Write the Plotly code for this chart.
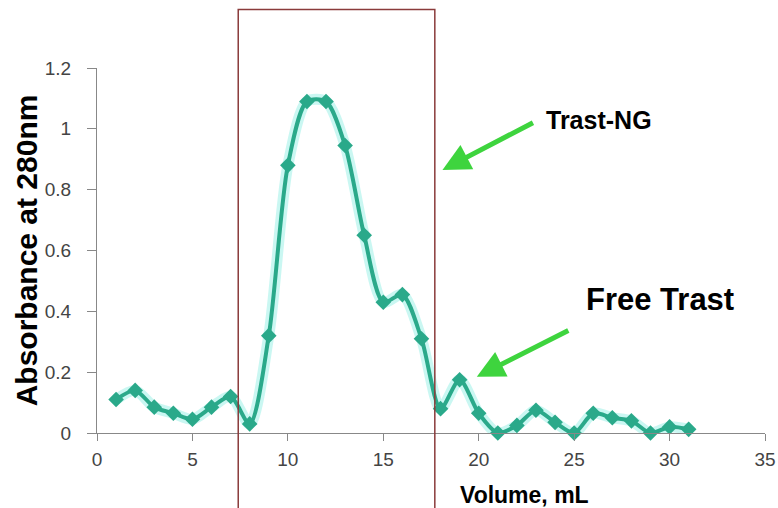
import plotly.graph_objects as go

# ---------------- data ----------------
volume_ml = [1, 2, 3, 4, 5, 6, 7, 8, 9, 10, 11, 12, 13, 14, 15, 16,
             17, 18, 19, 20, 21, 22, 23, 24, 25, 26, 27, 28, 29, 30, 31]
absorbance = [0.11, 0.14, 0.085, 0.065, 0.045, 0.085, 0.12, 0.03, 0.32, 0.88,
              1.09, 1.09, 0.945, 0.65, 0.43, 0.455, 0.31, 0.08, 0.175, 0.065,
              0.0, 0.025, 0.075, 0.035, 0.0, 0.065, 0.05, 0.04, 0.0, 0.02, 0.012]
x_ticks = [0, 5, 10, 15, 20, 25, 30, 35]
y_ticks = [0, 0.2, 0.4, 0.6, 0.8, 1, 1.2]
y_tick_text = ["0", "0.2", "0.4", "0.6", "0.8", "1", "1.2"]

TEAL = "#2aa98a"
GREEN = "#3ed43e"
BOX = "#8a3b3b"
FONT = "Arial, Liberation Sans"

fig = go.Figure()

# soft glow under the line
fig.add_trace(go.Scatter(
    x=volume_ml, y=absorbance, mode="lines",
    line=dict(color="rgba(150,240,230,0.5)", width=11, shape="spline", smoothing=0.8),
    hoverinfo="skip", showlegend=False, cliponaxis=False
))

fig.add_trace(go.Scatter(
    x=volume_ml, y=absorbance, mode="lines+markers",
    line=dict(color=TEAL, width=4, shape="spline", smoothing=0.8),
    marker=dict(symbol="diamond", size=12, color=TEAL),
    showlegend=False, cliponaxis=False
))

# ---------------- fraction box ----------------
fig.add_shape(
    type="rect", xref="x", yref="paper",
    x0=7.4, x1=17.7, y0=-0.4, y1=1.16,
    line=dict(color=BOX, width=1.5), layer="above"
)

# ---------------- arrows + labels ----------------
fig.add_annotation(
    x=18.1, y=0.865, xref="x", yref="y", ax=92, ay=-48,
    showarrow=True, arrowhead=2, arrowsize=1.1, arrowwidth=5,
    arrowcolor=GREEN, text=""
)
fig.add_annotation(
    x=19.9, y=0.185, xref="x", yref="y", ax=93, ay=-47,
    showarrow=True, arrowhead=2, arrowsize=1.1, arrowwidth=5,
    arrowcolor=GREEN, text=""
)
fig.add_annotation(
    x=23.4, y=1.03, xref="x", yref="y", xanchor="left", yanchor="middle",
    text="<b>Trast-NG</b>", showarrow=False,
    font=dict(family=FONT, size=25, color="#000")
)
fig.add_annotation(
    x=25.5, y=0.44, xref="x", yref="y", xanchor="left", yanchor="middle",
    text="<b>Free Trast</b>", showarrow=False,
    font=dict(family=FONT, size=31, color="#000")
)

# axis titles
fig.add_annotation(
    x=0.54, y=-0.17, xref="paper", yref="paper", xanchor="left", yanchor="middle",
    text="<b>Volume, mL</b>", showarrow=False,
    font=dict(family=FONT, size=23, color="#000")
)
fig.add_annotation(
    x=-0.105, y=0.5, xref="paper", yref="paper", xanchor="center", yanchor="middle",
    text="<b>Absorbance at 280nm</b>", showarrow=False, textangle=-90,
    font=dict(family=FONT, size=30, color="#000")
)

# ---------------- layout ----------------
fig.update_layout(
    width=778, height=508,
    margin=dict(l=97, r=13, t=68, b=75),
    paper_bgcolor="white", plot_bgcolor="white",
    font=dict(family=FONT, size=19, color="#444"),
    xaxis=dict(
        range=[0, 35], tickvals=x_ticks, showgrid=False, zeroline=False,
        showline=True, linecolor="#888", linewidth=1, automargin=False,
        ticks="outside", ticklen=7, tickcolor="#888", ticklabelstandoff=2
    ),
    yaxis=dict(
        range=[0, 1.2], tickvals=y_ticks, ticktext=y_tick_text,
        showgrid=False, zeroline=False, automargin=False,
        showline=True, linecolor="#888", linewidth=1,
        ticks="outside", ticklen=9, tickcolor="#888", ticklabelstandoff=12
    )
)

# drop the default 8px page margin so the figure sits at the window's corner
fig.write_html(
    "out.html",
    config={"displayModeBar": False},
    post_script="document.body.style.margin='0';"
)
